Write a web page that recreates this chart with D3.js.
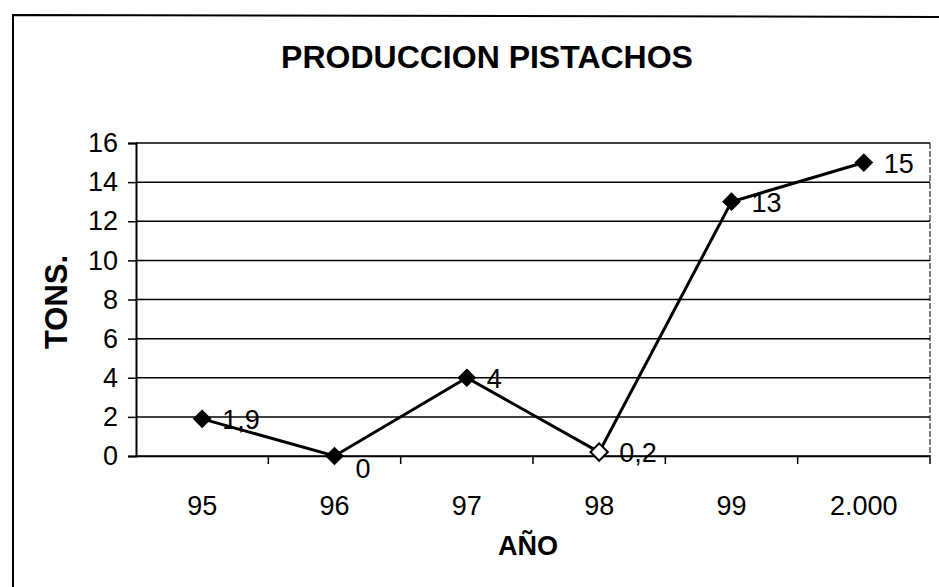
<!DOCTYPE html>
<html>
<head>
<meta charset="utf-8">
<script src="https://cdn.jsdelivr.net/npm/d3@7"></script>
<style>
  body { margin: 0; background: #fff; }
  svg { display: block; font-family: Arial, "Liberation Sans", sans-serif; }
</style>
</head>
<body>
<svg width="939" height="587"></svg>
<script>
// data
var years = ["95", "96", "97", "98", "99", "2.000"];
var tons = [1.9, 0, 4, 0.2, 13, 15];
var valueLabels = ["1,9", "0", "4", "0,2", "13", "15"];
var yTicks = [0, 2, 4, 6, 8, 10, 12, 14, 16];
var labelSide = ["right", "below", "right", "right", "right", "right"];
var hollow = [false, false, false, true, false, false];

var svg = d3.select("svg"),
    width = +svg.attr("width"),
    height = +svg.attr("height");

var plot = {left: 136, right: 930, top: 143, bottom: 456};

// outer chart frame (scan: left + top edges visible)
svg.append("path")
    .attr("d", "M13,587 L13,15 L939,17")
    .attr("fill", "none")
    .attr("stroke", "#000")
    .attr("stroke-width", 2);

var x = d3.scaleBand()
    .domain(years)
    .range([plot.left, plot.right]);

var y = d3.scaleLinear()
    .domain([0, 16])
    .range([plot.bottom, plot.top]);

// gridlines
svg.append("g")
  .selectAll("line")
    .data(yTicks)
  .enter().append("line")
    .attr("x1", plot.left)
    .attr("x2", plot.right)
    .attr("y1", function(d) { return y(d); })
    .attr("y2", function(d) { return y(d); })
    .attr("stroke", "#000")
    .attr("stroke-width", 1.5);

// right edge of plot area
svg.append("line")
    .attr("x1", plot.right).attr("x2", plot.right)
    .attr("y1", plot.top).attr("y2", plot.bottom)
    .attr("stroke", "#000")
    .attr("stroke-width", 1)
    .attr("stroke-dasharray", "6,2");

// y axis
var yAxis = svg.append("g")
    .attr("transform", "translate(" + plot.left + ",0)")
    .call(d3.axisLeft(y).tickValues(yTicks).tickSize(8).tickPadding(10));
yAxis.select(".domain").attr("stroke-width", 2);
yAxis.selectAll(".tick line").attr("stroke-width", 1.5);
yAxis.selectAll("text")
    .attr("font-size", "27px")
    .attr("fill", "#000");

// x axis: ticks at the category boundaries
var xAxis = svg.append("g")
    .attr("transform", "translate(0," + plot.bottom + ")")
    .call(d3.axisBottom(x).tickSize(0).tickPadding(40));
xAxis.select(".domain").attr("stroke-width", 1.5);
xAxis.selectAll("text")
    .attr("font-size", "27px")
    .attr("fill", "#000");
svg.append("g")
  .selectAll("line")
    .data(years)
  .enter().append("line")
    .attr("x1", function(d) { return x(d) + x.bandwidth(); })
    .attr("x2", function(d) { return x(d) + x.bandwidth(); })
    .attr("y1", plot.bottom)
    .attr("y2", plot.bottom + 8)
    .attr("stroke", "#000")
    .attr("stroke-width", 1.5);

// line
var line = d3.line()
    .x(function(d, i) { return x(years[i]) + x.bandwidth() / 2; })
    .y(function(d) { return y(d); });

svg.append("path")
    .datum(tons)
    .attr("d", line)
    .attr("fill", "none")
    .attr("stroke", "#000")
    .attr("stroke-width", 3);

// diamond markers
var diamond = d3.symbol().type(d3.symbolSquare).size(150);
svg.append("g")
  .selectAll("path")
    .data(tons)
  .enter().append("path")
    .attr("d", diamond)
    .attr("transform", function(d, i) {
        return "translate(" + (x(years[i]) + x.bandwidth() / 2) + "," + y(d) + ") rotate(45)";
    })
    .attr("fill", function(d, i) { return hollow[i] ? "#fff" : "#000"; })
    .attr("stroke", "#000")
    .attr("stroke-width", function(d, i) { return hollow[i] ? 2 : 1; });

// value labels
svg.append("g")
  .selectAll("text")
    .data(tons)
  .enter().append("text")
    .attr("x", function(d, i) { return x(years[i]) + x.bandwidth() / 2 + (labelSide[i] == "below" ? 21 : 20); })
    .attr("y", function(d, i) { return y(d) + (labelSide[i] == "below" ? 22 : 10); })
    .attr("font-size", "27px")
    .attr("fill", "#000")
    .text(function(d, i) { return valueLabels[i]; });

// titles
svg.append("text")
    .attr("x", 487)
    .attr("y", 68)
    .attr("text-anchor", "middle")
    .attr("font-size", "32px")
    .attr("font-weight", "bold")
    .text("PRODUCCION PISTACHOS");

svg.append("text")
    .attr("x", 528)
    .attr("y", 555)
    .attr("text-anchor", "middle")
    .attr("font-size", "27px")
    .attr("font-weight", "bold")
    .text("AÑO");

svg.append("text")
    .attr("transform", "translate(67,302) rotate(-90)")
    .attr("text-anchor", "middle")
    .attr("font-size", "31px")
    .attr("font-weight", "bold")
    .text("TONS.");
</script>
</body>
</html>
